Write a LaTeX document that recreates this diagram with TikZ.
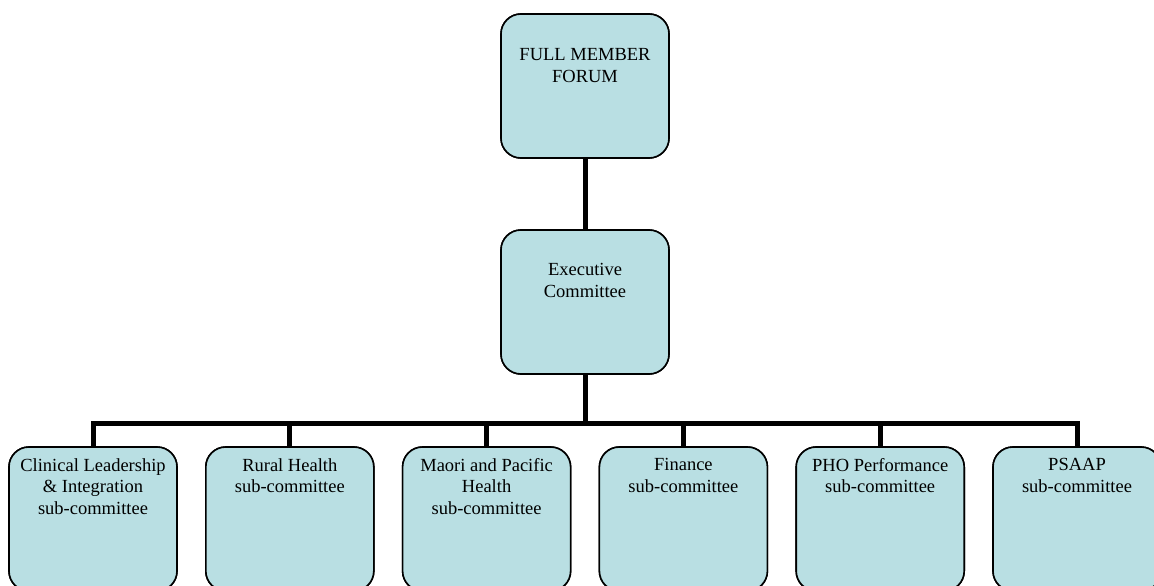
\documentclass[tikz,border=0pt]{standalone}
\usepackage{fontspec}
\setmainfont{Liberation Serif}
\definecolor{boxfill}{RGB}{185,223,227}
\begin{document}
\begin{tikzpicture}[x=1pt,y=-1pt,
  box/.style={draw=black,line width=1.6pt,fill=boxfill,rounded corners=20pt,
    minimum width=168pt,minimum height=144pt,inner sep=0pt},
  txt/.style={align=center,inner sep=0pt,font=\fontsize{18.5}{21.5}\selectfont},
  conn/.style={line width=5pt}]
\useasboundingbox (0,0) rectangle (1154,586);
\clip (0,0) rectangle (1154,586);
\fill[white] (0,0) rectangle (1154,586);
\coordinate (bus) at (585,423);
\node[box] (top) at (585,86) {};
\node[box] (exec) at (585,302) {};
\foreach \i/\n in {0/b1,1/b2,2/b3,3/b4,4/b5,5/b6}{
  \node[box] (\n) at ({93+196.8*\i},519) {};
}
\draw[conn] (top.south) -- (exec.north);
\draw[conn] (exec.south) -- (bus);
\foreach \n in {b1,b2,b3,b4,b5,b6}{
  \draw[conn] (bus) -| ([yshift=-1pt]\n.north);
}
% redraw boxes over the connector ends
\node[box] at (top) {};
\node[box] at (exec) {};
\foreach \n in {b1,b2,b3,b4,b5,b6}{ \node[box] at (\n) {}; }
% texts
\node[txt,anchor=north] (ttop) at ([yshift=-35pt]top.north) {FULL MEMBER\\FORUM};
\node[txt,anchor=north] (texec) at ([yshift=-34pt]exec.north) {Executive\\Committee};
\node[txt,anchor=north] (t1) at ([yshift=-12pt]b1.north) {Clinical Leadership\\\& Integration\\sub-committee};
\node[txt,anchor=north] (t2) at ([yshift=-12pt]b2.north) {Rural Health\\sub-committee};
\node[txt,anchor=north] (t3) at ([yshift=-12pt]b3.north) {Maori and Pacific\\Health\\sub-committee};
\node[txt,anchor=north] (t4) at ([yshift=-12pt]b4.north) {Finance\\sub-committee};
\node[txt,anchor=north] (t5) at ([yshift=-12pt]b5.north) {PHO Performance\\sub-committee};
\node[txt,anchor=north] (t6) at ([yshift=-12pt]b6.north) {PSAAP\\sub-committee};
\end{tikzpicture}
\end{document}
